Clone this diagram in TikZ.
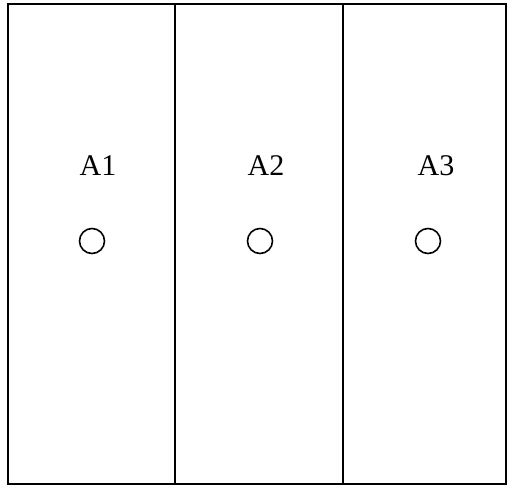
\documentclass[tikz,border=0pt]{standalone}
\usepackage{fontspec}
\setmainfont{Liberation Serif}
\usepackage{amsmath}
\usepackage{amssymb}

\begin{document}
\begin{tikzpicture}[x=1pt,y=-1pt,line width=2.2pt]
                \useasboundingbox (0,0) rectangle (508,485);
                \begin{scope}[every node/.style={rectangle,draw=black,minimum height=480pt,inner sep=0pt,outer sep=0pt}]
                    \node (C1) [minimum width=167pt] at (91.5,244) {};
                    \node (C2) [minimum width=168pt] at (259,244) {};
                    \node (C3) [minimum width=163pt] at (424.5,244) {};
                \end{scope}
                \begin{scope}[every node/.style={font=\fontsize{30}{36}\selectfont,inner sep=0pt}]
                    \node (L1) at (98,166) {A1};
                    \node (L2) at (266,166) {A2};
                    \node (L3) at (436,166) {A3};
                \end{scope}
                \begin{scope}[every node/.style={circle,draw=black,line width=1.6pt,minimum size=25pt,inner sep=0pt}]
                    \node (P1) at (92,241) {};
                    \node (P2) at (260,241) {};
                    \node (P3) at (428,241) {};
                \end{scope}
            \end{tikzpicture}
\end{document}
